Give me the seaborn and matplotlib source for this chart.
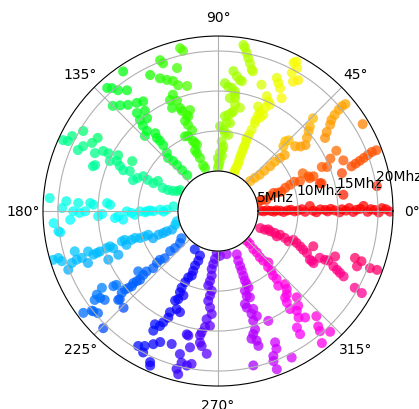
import numpy as np
import pandas as pd
import matplotlib
matplotlib.use("Agg")
import matplotlib.pyplot as plt
import seaborn as sns

# Bearing (degrees) and frequency (MHz) of each detection, grouped by direction
b000_deg = [0.6, -0.4, 0.9, 0.2, -0.6, 0.7, 0.3, -0.8, 0.5, 1.0, -0.3, 0.4, 1.2, -0.5, 3.1, 0.2, -0.7, 0.9,
            0.6, -0.2, 1.1, 0.3, -0.6, 0.8, 0.2, 1.3, -0.4, 0.5, 0.9, 2.0, -0.3, 0.7, 0.4, -0.5, 1.0, 0.6, -0.2]
b000_mhz = [5.3, 5.7, 6.1, 6.6, 7.0, 7.3, 7.8, 8.2, 8.7, 9.1, 9.6, 10.0, 10.5, 10.9, 11.5, 11.9, 12.3, 12.8,
            13.4, 13.7, 14.1, 14.6, 15.2, 15.5, 16.0, 16.4, 16.9, 17.3, 17.8, 18.2, 18.7, 19.1, 19.6, 20.1, 20.5, 21.0, 21.5]

b020_deg = [13, 14, 13, 16, 18, 17, 17, 19, 20, 21, 20, 24, 21, 20, 15, 23, 22, 25, 27, 22, 17, 18.5, 19, 19.5,
            20, 20.5, 21, 21, 7.4, 8.9, 19.7, 15.3]
b020_mhz = [5.2, 5.6, 6.2, 6.8, 7.3, 7.8, 8.3, 8.9, 9.6, 10.2, 10.9, 11.6, 12.1, 12.7, 13.4, 14.1, 14.7, 15.5,
            16.6, 16.9, 16.2, 17.6, 18.2, 18.8, 19.4, 20.0, 20.6, 21.2, 15.8, 20.1, 12.2, 13.2]

b040_deg = [43, 42, 41, 41, 40.7, 41, 40.5, 40, 44.7, 46, 45, 40, 38, 37, 39.5, 41.4, 42.6, 44.3, 34.3, 36,
            37.6, 38.8, 39.5, 40, 40.2, 40, 31]
b040_mhz = [5.5, 6.2, 6.9, 7.7, 8.6, 9.4, 10.2, 10.9, 11.5, 12.1, 12.5, 12.6, 13.1, 13.7, 14.4, 15.1, 15.6, 16.6,
            16.2, 16.8, 17.7, 18.2, 18.9, 19.7, 20.3, 20.8, 21.1]

b065_deg = [67, 67.5, 67, 67, 67.5, 67.8, 67.8, 68, 67.8, 68, 68.5, 67.9, 67.5, 67.2, 67.6, 65.7, 67.3, 64.8,
            67, 69, 65.5, 64, 65.4, 67, 60.6, 71, 63.2, 64.8, 66.2, 59.9, 58.5, 61.9, 61, 63, 62.3]
b065_mhz = [5.2, 5.6, 6.1, 6.5, 7.0, 7.5, 8.0, 8.5, 8.9, 9.4, 9.8, 10.3, 11.0, 11.9, 12.3, 12.8, 13.0, 13.3,
            13.5, 14.0, 14.2, 14.8, 15.1, 15.6, 16.2, 16.7, 17.2, 17.7, 18.2, 18.7, 19.2, 19.6, 20.4, 20.8, 21.1]

b085_deg = [90, 89, 88, 90, 86, 88, 86, 85.3, 87, 84.9, 82.3, 86, 88.6, 84.4, 82.2, 85.8, 83.9, 81.3, 78,
            80.9, 84, 81.4, 81.9, 83.6, 85.3, 86.9, 79.6, 80.5, 82, 83.7, 76, 76.6, 77.8, 78.8, 79.7, 80.6, 81.3,
            81.7, 82]
b085_mhz = [5.4, 5.8, 6.2, 6.6, 6.9, 7.3, 7.7, 8.1, 8.7, 9.8, 9.6, 10.2, 10.6, 11.1, 11.1, 11.9, 12.1, 12.6,
            13.2, 13.5, 14.2, 14.3, 15.1, 15.5, 15.6, 16.0, 16.5, 16.6, 17.0, 17.6, 18.0, 18.2, 18.9, 19.5, 20.1,
            20.7, 21.0, 14.7, 12.4]

b110_deg = [103.1, 102.3, 111, 110.4, 106, 116.5, 113.6, 111.3, 109.1, 107.6, 103.9, 111.2, 113.4, 110.4, 114,
            110.2, 109.8, 105.5, 107.9, 107.4, 110, 109.2, 107.8, 113.8, 111.8, 109.7, 108.7, 107.6, 110.7,
            109.9, 108.8, 108, 106.8]
b110_mhz = [20.9, 20.5, 20.2, 19.7, 18.6, 19.0, 18.1, 17.6, 17.2, 16.5, 16.1, 15.6, 15.1, 14.7, 14.1, 13.7,
            13.3, 13.1, 12.6, 12.4, 12.0, 11.4, 10.6, 10.2, 10.1, 9.3, 9.0, 8.7, 8.1, 7.7, 7.0, 6.0, 5.6]

b130_deg = [130.7, 131.3, 131.7, 132, 133.3, 131.3, 129.8, 129.6, 129.9, 128.9, 134.2, 131.6, 131.4, 127.4,
            130.6, 126.1, 129.6, 124.3, 126.9, 130.3, 132.8, 135, 127, 129.6, 130.8, 132, 124.2]
b130_mhz = [5.9, 6.8, 7.7, 8.4, 9.1, 9.7, 10.7, 11.4, 11.9, 12.5, 13.1, 13.4, 14.2, 14.6, 15.0, 15.5, 15.9,
            16.6, 16.9, 17.4, 18.0, 18.6, 18.9, 19.6, 20.3, 20.7, 21.1]

b155_deg = [155.4, 152.8, 155, 156.5, 154.3, 149.3, 151.6, 148.7, 154.8, 159.5, 160.3, 152.4, 152.2, 155.2,
            150.8, 153.7, 155.3, 156.7, 149.8, 155.6, 160, 157.8, 155, 156.1, 156.7, 153.4, 157.3, 157.2, 156,
            154, 151]
b155_mhz = [21.3, 20.5, 20.7, 19.1, 18.7, 19.6, 17.9, 17.6, 17.0, 16.4, 16.6, 16.2, 15.5, 14.9, 14.3, 14.1,
            13.5, 12.9, 12.4, 12.1, 11.3, 10.9, 10.3, 9.6, 8.8, 8.4, 7.5, 6.8, 6.2, 5.7, 5.4]

b180_deg = [175.6, 184.2, 187.2, 187.7, 178.9, 176.3, 183.4, 180.1, 176.7, 180.8, 180.1, 176.4, 177.1, 182.5,
            181.5, 175.9, 176.7, 183.9, 183, 185.2, 180.2, 181.3, 182.6, 180.2, 181, 180.2, 179.5, 180.2,
            178.7, 180.6, 178.5, 174]
b180_mhz = [21.1, 20.6, 20.1, 19.9, 19.5, 19.0, 18.5, 18.1, 17.5, 17.3, 16.6, 16.0, 15.6, 15.0, 14.5, 13.9,
            13.5, 12.9, 12.5, 11.9, 11.4, 10.8, 10.4, 9.75, 9.1, 8.9, 8.5, 8.1, 7.25, 6.8, 6.4, 5.6]

b200_deg = [196.5, 196.4, 197.8, 201.4, 199.6, 195.7, 199, 199, 201.8, 197.3, 199.3, 199.1, 198.9, 198.4,
            203.9, 198.1, 199.5, 203.7, 197.5, 197.2, 200.3, 198.4, 198, 199.1, 199.1, 198.8, 202.7, 201.7,
            201.9, 201.6, 202, 197.7, 194]
b200_mhz = [21.5, 20.8, 20.5, 20.1, 19.4, 18.6, 18.7, 18.0, 17.5, 17.0, 16.5, 16.0, 15.6, 14.7, 15.0, 14.2,
            13.9, 13.6, 12.6, 12.2, 12.2, 11.4, 10.9, 10.3, 9.7, 9.2, 8.8, 8.0, 7.4, 6.9, 6.2, 5.6, 5.3]

b220_deg = [216.6, 220.1, 220.7, 220, 221.6, 220, 220.3, 221.4, 220.2, 220.5, 217.1, 221.4, 220.8, 220.4,
            221.1, 220.6, 220.2, 220.4, 225.7, 221.7, 216, 215.7, 213.5, 216.4, 214.6, 215.8, 218.8, 220.4,
            217.1, 218.1, 225.6, 218.3, 221.9]
b220_mhz = [5.7, 6.2, 7.1, 7.8, 8.9, 9.5, 10.0, 10.8, 11.7, 12.3, 12.5, 13.0, 13.4, 13.9, 14.3, 14.8, 15.2,
            15.8, 16.9, 16.7, 15.7, 16.1, 17.4, 18.3, 18.4, 19.0, 20.0, 19.7, 21.1, 18.0, 20.5, 20.1, 16.5]

b245_deg = [238.8, 248, 248.4, 247.2, 247.5, 247.9, 245.9, 245.2, 244.6, 244.9, 247.7, 245.7, 244.4, 249.4,
            247.1, 244.6, 245, 243.8, 243.2, 240.9, 241.6, 239.4, 241.5, 244.1, 246.2, 250.8, 242.1, 245.8,
            246.3]
b245_mhz = [5.6, 6.0, 6.7, 7.4, 8.1, 8.7, 9.1, 9.8, 10.6, 11.2, 11.4, 12.1, 12.4, 13.5, 13.3, 14.0, 14.7,
            15.5, 16.1, 16.2, 17.0, 19.6, 19.2, 18.5, 17.9, 17.6, 20.0, 20.7, 21.1]

b265_deg = [268.2, 266.4, 264.9, 263.8, 264.4, 263.5, 262.6, 265.5, 264.6, 263.8, 265.3, 266.5, 264, 266,
            263.6, 262.3, 261.8, 262.2, 263.1, 265.5, 256.6, 258.4, 255.1, 256.5, 255.3, 256.3, 260.2, 258.6,
            255.8]
b265_mhz = [5.2, 6.0, 6.65, 7.3, 8.1, 8.8, 9.4, 10.0, 10.6, 11.3, 12.1, 12.9, 13.6, 14.4, 14.6, 15.3, 15.7,
            16.6, 17.0, 17.9, 16.0, 17.4, 18.5, 19.5, 20.4, 21.0, 19.4, 19.7, 15.9]

b290_deg = [272.6, 281.4, 293.5, 292.2, 291.9, 291.7, 291.4, 291.2, 291.5, 291.7, 288.7, 288.7, 290.3, 286.2,
            286.6, 289.8, 288.1, 290.3, 294.6, 287.8, 287.4, 286, 284.7, 286.6, 286.7, 282.9, 293.5, 293,
            290.9, 290.3, 290.4, 296.7]
b290_mhz = [5.6, 5.5, 5.9, 6.7, 7.4, 8.0, 8.7, 9.3, 9.8, 10.3, 10.5, 11.2, 11.5, 12.1, 12.6, 13.0, 13.5,
            14.0, 15.1, 14.4, 15.5, 16.0, 16.5, 16.9, 17.6, 19.8, 17.9, 18.7, 19.4, 20.0, 21.1, 20.5]

b310_deg = [314, 314.1, 312.9, 313.1, 312.2, 312.4, 314.4, 311.8, 312, 310.5, 310.8, 308.9, 312.5, 311.4,
            309.6, 307.8, 307, 306.3, 312.4, 310.3, 308.3, 307.1, 309.3, 304.1, 303.7, 313.1, 311, 310.3,
            308.2, 312.9]
b310_mhz = [5.2, 5.7, 6.5, 7.1, 7.8, 8.4, 9.0, 9.4, 10.0, 10.6, 11.2, 12.0, 12.4, 13.0, 13.5, 13.7, 14.3,
            15.2, 14.6, 15.5, 15.9, 16.7, 17.2, 17.6, 18.5, 18.0, 19.1, 19.7, 21.0, 20.6]

b338_deg = [338, 338.3, 340, 338.7, 338.9, 336.7, 339.1, 338.1, 336.7, 339.1, 337.9, 336.7, 335.6, 334.7,
            332.1, 331.4, 339.7, 335.3, 335.5, 335.8, 338.8, 334.4, 333.7, 333.1, 332.5, 341.1, 340.7, 338.3,
            339.4, 339.7, 330.7, 330.3, 332]
b338_mhz = [5.7, 6.3, 6.7, 7.0, 7.6, 8.0, 8.3, 9.0, 9.6, 10.1, 10.6, 11.2, 11.7, 12.3, 13.0, 13.6, 12.7, 14.0,
            14.7, 15.1, 15.7, 16.0, 16.6, 17.1, 17.7, 18.1, 19.0, 18.7, 20.3, 21.2, 19.6, 20.7, 13.3]

r_ticks = [5, 10, 15, 20]
r_tick_labels = ["5Mhz", "10Mhz", "15Mhz", "20Mhz"]

groups = [
    (b000_deg, b000_mhz), (b020_deg, b020_mhz), (b040_deg, b040_mhz), (b065_deg, b065_mhz),
    (b085_deg, b085_mhz), (b110_deg, b110_mhz), (b130_deg, b130_mhz), (b155_deg, b155_mhz),
    (b180_deg, b180_mhz), (b200_deg, b200_mhz), (b220_deg, b220_mhz), (b245_deg, b245_mhz),
    (b265_deg, b265_mhz), (b290_deg, b290_mhz), (b310_deg, b310_mhz), (b338_deg, b338_mhz),
]
df = pd.DataFrame({
    "deg": np.concatenate([np.asarray(g[0], float) for g in groups]),
    "mhz": np.concatenate([np.asarray(g[1], float) for g in groups]),
})
df["deg"] = df["deg"] % 360
df["rad"] = np.deg2rad(df["deg"])

fig = plt.figure(figsize=(4.19, 4.10), dpi=100)
ax = fig.add_axes([0.1026, 0.0560, 0.8353, 0.8537], projection="polar")

sns.scatterplot(data=df, x="rad", y="mhz", hue="deg", palette="hsv", hue_norm=(0, 360),
                s=52, alpha=0.75, linewidth=0, legend=False, ax=ax)

ax.set_rorigin(0)
ax.set_ylim(5, 21.875)
ax.set_yticks(r_ticks)
ax.set_yticklabels(r_tick_labels)
ax.set_rlabel_position(10)
ax.set_xlabel("")
ax.set_ylabel("")

fig.savefig("out.png", dpi=100)
